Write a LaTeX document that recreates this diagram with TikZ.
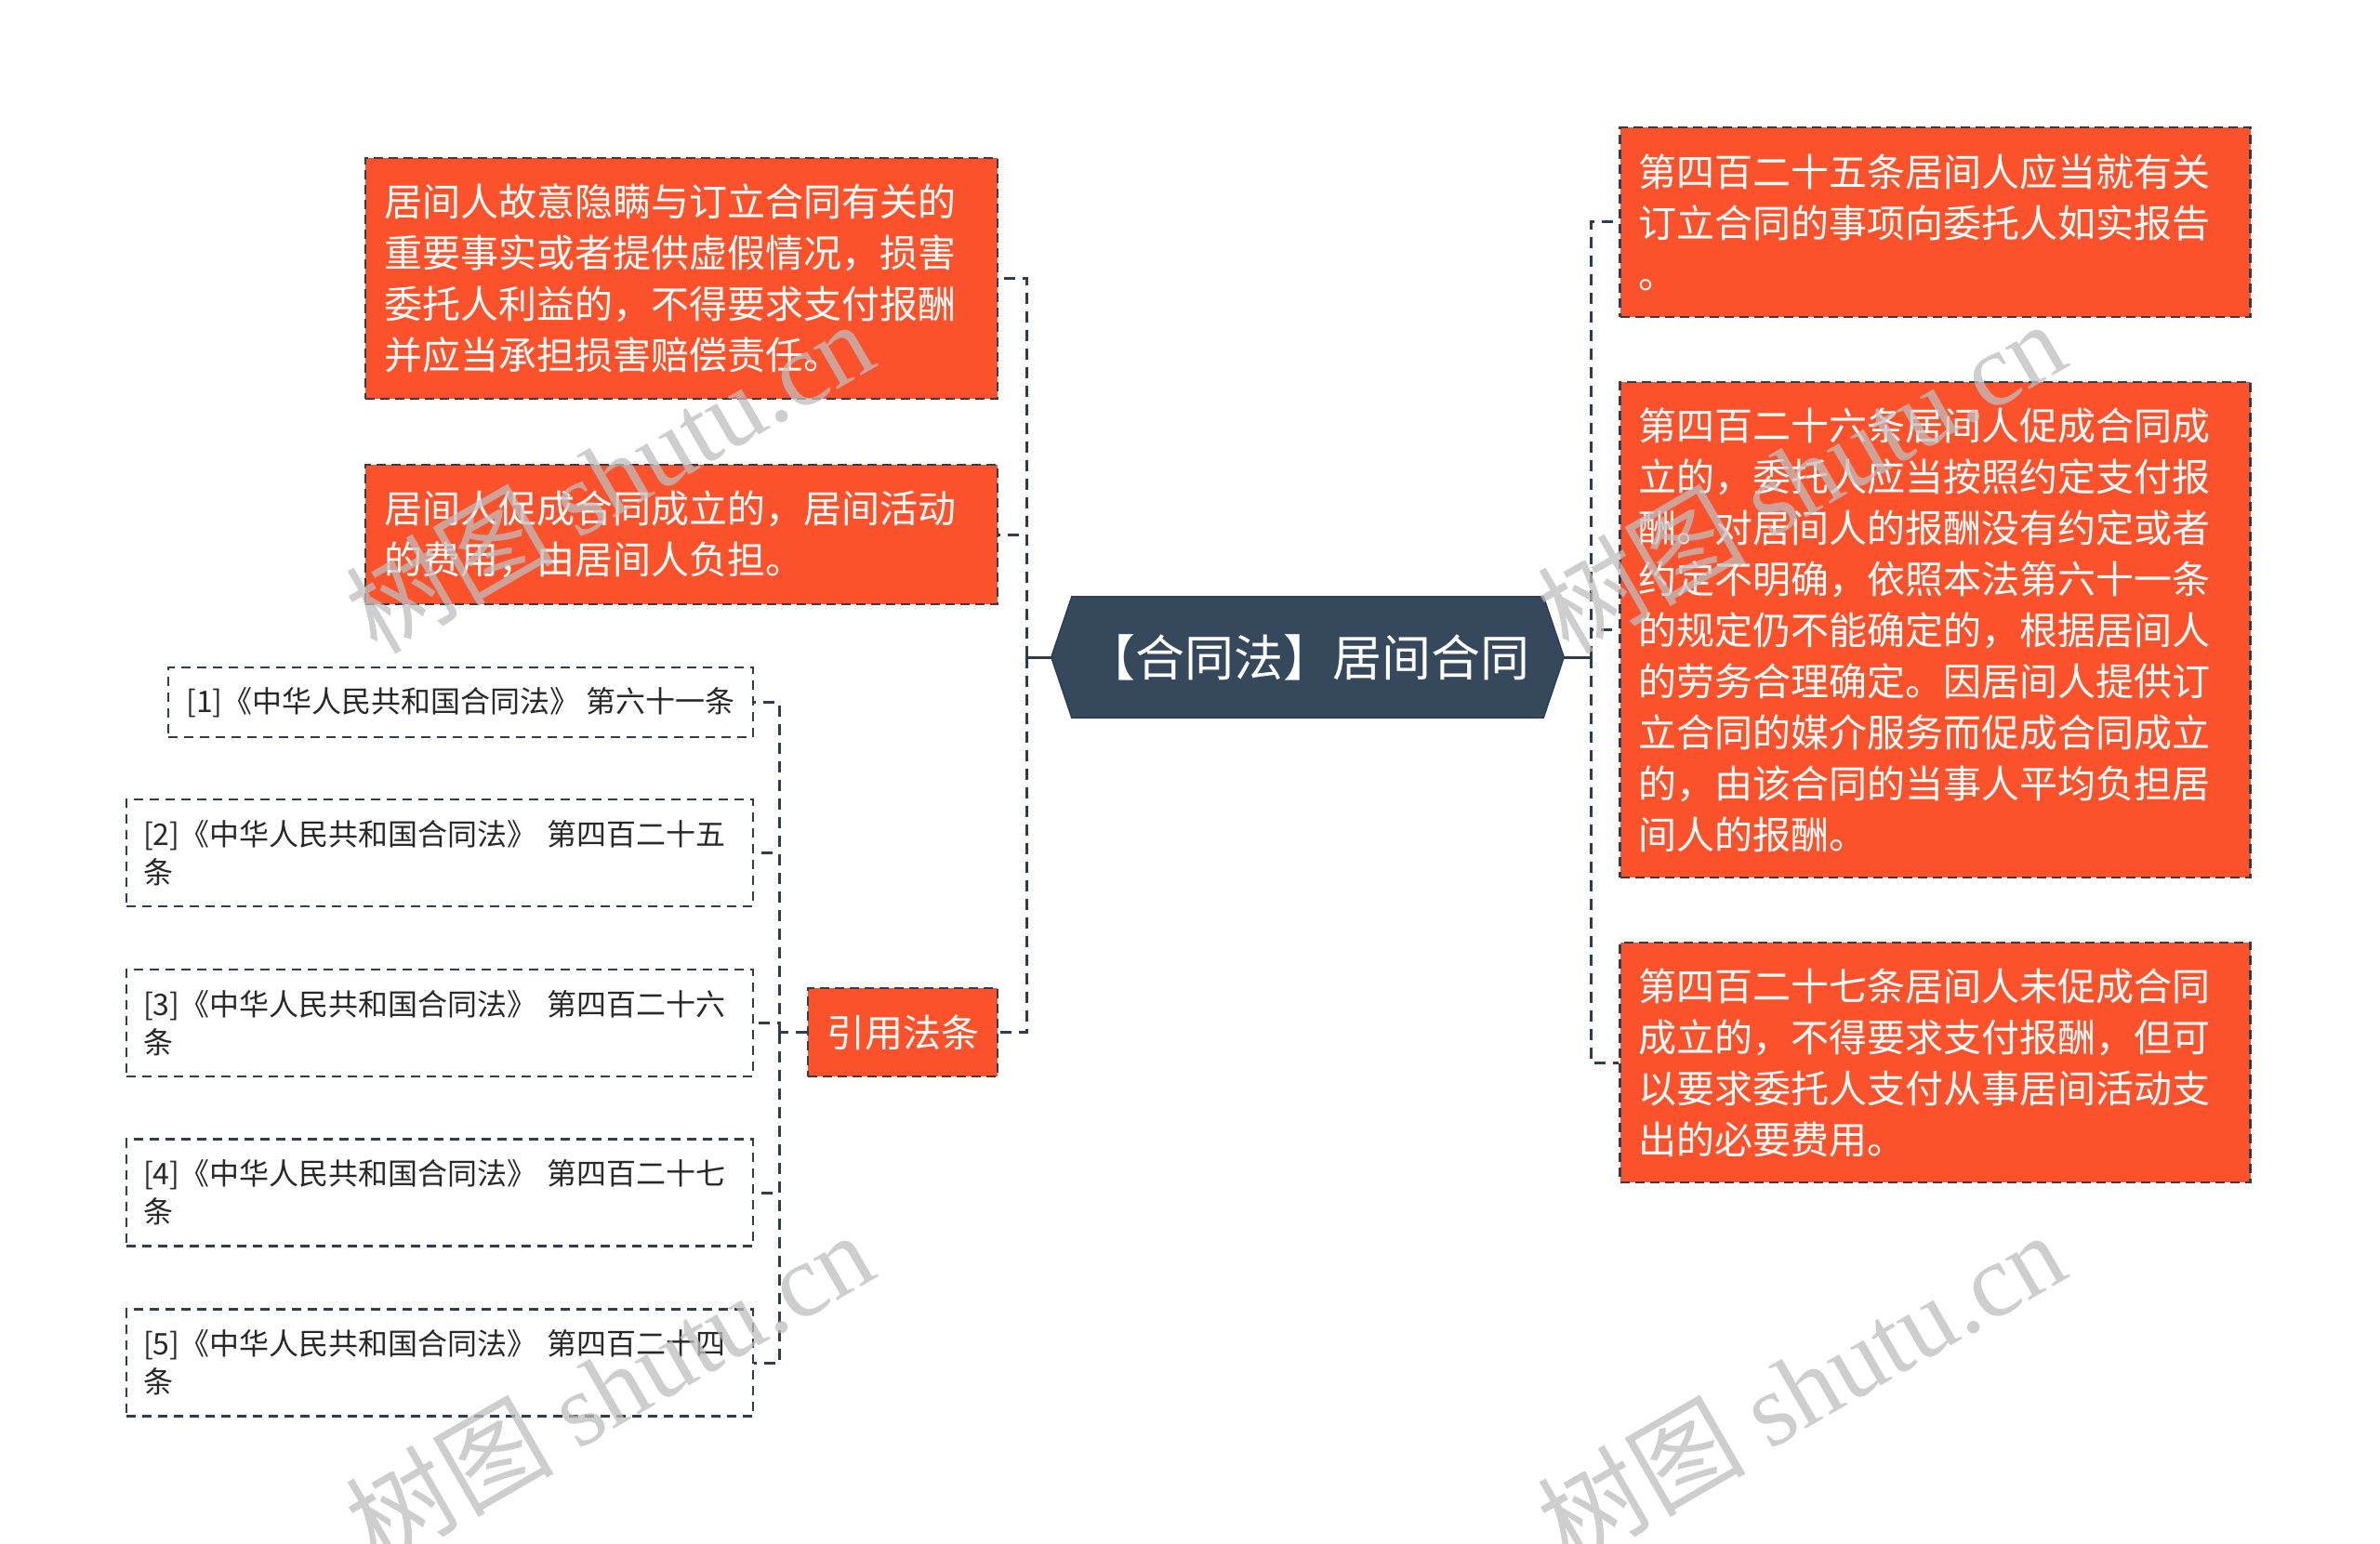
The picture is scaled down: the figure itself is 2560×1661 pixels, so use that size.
\documentclass[tikz,border=0pt]{standalone}
\usepackage{fontspec}
\setmainfont{Noto Sans CJK SC}
\newfontfamily\wmserif{Liberation Serif}
\usetikzlibrary{calc,backgrounds}
\definecolor{boxred}{RGB}{252,82,44}
\definecolor{linedark}{RGB}{44,62,80}
\definecolor{hexfill}{RGB}{54,73,92}
\definecolor{citetext}{RGB}{40,40,40}
\definecolor{wmgray}{RGB}{190,190,190}
\tikzset{
  redbox/.style={draw=linedark, line width=2.5pt, dash pattern=on 10pt off 6pt,
    fill=boxred, text=white, font=\fontsize{41}{55}\selectfont, align=left,
    inner xsep=20pt, inner ysep=0pt},
  citebox/.style={draw=linedark, line width=2.5pt, dash pattern=on 10pt off 7pt,
    fill=white, text=citetext, font=\fontsize{32}{41}\selectfont, align=left,
    inner xsep=18pt, inner ysep=0pt},
  hexnode/.style={text=white, font=\fontsize{53}{60}\selectfont, inner sep=0pt},
  solidline/.style={draw=linedark, line width=3pt},
  dashline/.style={draw=linedark, line width=3pt, dash pattern=on 12pt off 8pt},
  wmark/.style={rotate=30, text=wmgray, text opacity=0.75, font=\fontsize{112}{112}\selectfont, inner sep=0pt}
}
\begin{document}
\begin{tikzpicture}[x=1pt,y=-1pt]
\useasboundingbox (0,0) rectangle (2560,1661);

% central node
\node[hexnode, minimum width=551pt, minimum height=130pt] (hex) at (1406.5,707) {【合同法】居间合同};
\begin{scope}[on background layer]
\fill[white] (0,0) rectangle (2560,1661);
\fill[hexfill, draw=linedark, line width=1.5pt]
  (hex.west) -- ($(hex.north west)+(22,0)$) -- ($(hex.north east)+(-22,0)$) -- (hex.east)
  -- ($(hex.south east)+(-22,0)$) -- ($(hex.south west)+(22,0)$) -- cycle;
\end{scope}

% left branch
\node[redbox, text width=640pt, minimum height=259pt] (A) at (733,299.5)
 {居间人故意隐瞒与订立合同有关的\\重要事实或者提供虚假情况，损害\\委托人利益的，不得要求支付报酬\\并应当承担损害赔偿责任。};
\node[redbox, text width=640pt, minimum height=150pt] (B) at (733,575)
 {居间人促成合同成立的，居间活动\\的费用，由居间人负担。};
\node[redbox, align=center, text width=164pt, minimum height=95pt] (cite) at (971,1110.5) {引用法条};

% citations
\node[citebox, inner xsep=0pt, minimum width=629pt, minimum height=75pt] (C1) at (495.5,755.5)
 {[1]《中华人民共和国合同法》 第六十一条};
\node[citebox, text width=638pt, minimum height=115pt] (C2) at (473,917.5)
 {[2]《中华人民共和国合同法》 第四百二十五\\条};
\node[citebox, text width=638pt, minimum height=115pt] (C3) at (473,1100.5)
 {[3]《中华人民共和国合同法》 第四百二十六\\条};
\node[citebox, text width=638pt, minimum height=115pt] (C4) at (473,1283)
 {[4]《中华人民共和国合同法》 第四百二十七\\条};
\node[citebox, text width=638pt, minimum height=115pt] (C5) at (473,1466)
 {[5]《中华人民共和国合同法》 第四百二十四\\条};

% right branch
\node[redbox, text width=638pt, minimum height=204pt] (R1) at (2081.5,239)
 {第四百二十五条居间人应当就有关\\订立合同的事项向委托人如实报告\\。};
\node[redbox, text width=638pt, minimum height=533pt] (R2) at (2081.5,677.5)
 {第四百二十六条居间人促成合同成\\立的，委托人应当按照约定支付报\\酬。对居间人的报酬没有约定或者\\约定不明确，依照本法第六十一条\\的规定仍不能确定的，根据居间人\\的劳务合理确定。因居间人提供订\\立合同的媒介服务而促成合同成立\\的，由该合同的当事人平均负担居\\间人的报酬。};
\node[redbox, text width=638pt, minimum height=258pt] (R3) at (2081.5,1143)
 {第四百二十七条居间人未促成合同\\成立的，不得要求支付报酬，但可\\以要求委托人支付从事居间活动支\\出的必要费用。};

% connectors
\coordinate (jl) at (1104,707);
\coordinate (jr) at (1711,707);
\coordinate (jc) at (838,1110.5);
\draw[solidline] (hex.west) -- (jl);
\draw[solidline] (hex.east) -- (jr);
\draw[dashline] (jl) |- (A.east);
\draw[dashline] (jl) |- (B.east);
\draw[dashline] (jl) |- (cite.east);
\draw[dashline] (jr) |- (R1.west);
\draw[dashline] (jr) |- (R2.west);
\draw[dashline] (jr) |- (R3.west);
\draw[dashline] (cite.west) -- (jc);
\draw[dashline] (jc) |- (C1.east);
\draw[dashline] (jc) |- (C2.east);
\draw[dashline] (jc) |- (C3.east);
\draw[dashline] (jc) |- (C4.east);
\draw[dashline] (jc) |- (C5.east);

% watermarks
\node[wmark] (wm1) at (655,512) {树图 {\wmserif shutu.cn}};
\node[wmark] (wm2) at (1937,512) {树图 {\wmserif shutu.cn}};
\node[wmark] (wm3) at (655,1492) {树图 {\wmserif shutu.cn}};
\node[wmark] (wm4) at (1937,1492) {树图 {\wmserif shutu.cn}};
\end{tikzpicture}
\end{document}
